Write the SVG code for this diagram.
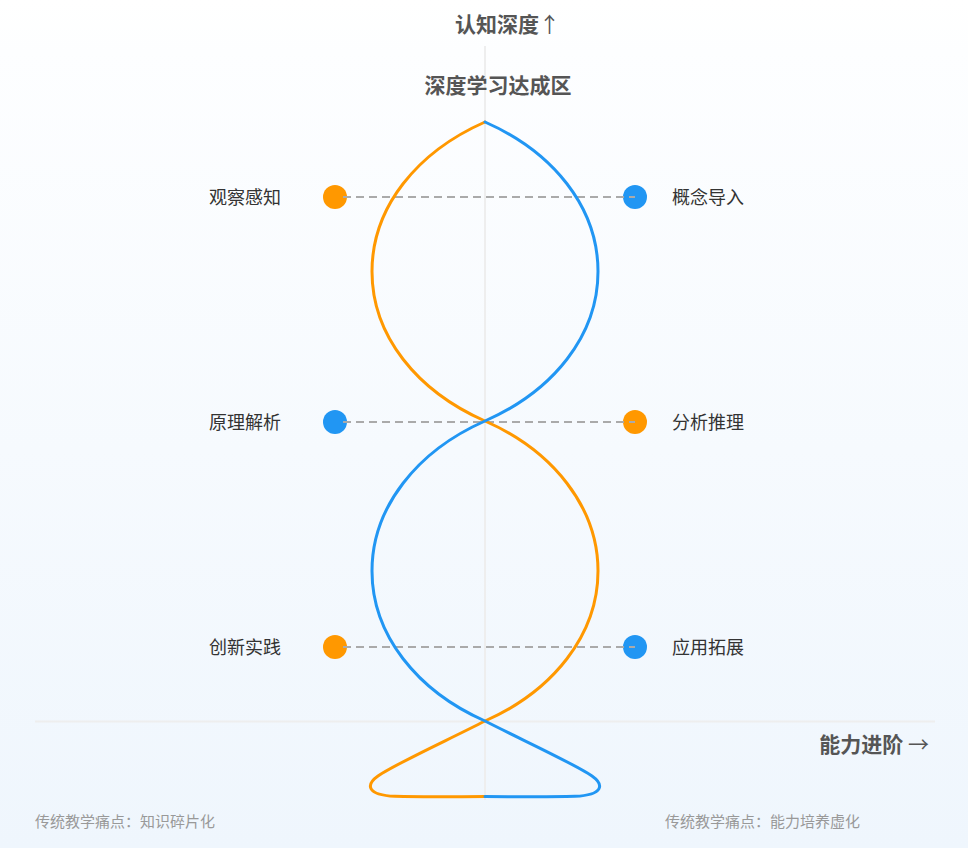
<svg xmlns="http://www.w3.org/2000/svg" width="968" height="848" viewBox="0 0 968 848">
  <defs>
    <linearGradient id="bg" x1="0" y1="0" x2="0" y2="1">
      <stop offset="0" stop-color="#ffffff"/>
      <stop offset="0.06" stop-color="#fdfeff"/>
      <stop offset="1" stop-color="#eff6fd"/>
    </linearGradient>
    <style>
      .axis { stroke: #eeeeee; stroke-width: 2; fill: none; }
      .dash { stroke: #aaaaaa; stroke-width: 2; stroke-dasharray: 8 5; fill: none; }
      .orange { stroke: #ff9800; stroke-width: 3; fill: none; stroke-linecap: round; stroke-linejoin: round; }
      .blue { stroke: #2196f3; stroke-width: 3; fill: none; stroke-linecap: round; stroke-linejoin: round; }
      .dotO { fill: #ff9800; }
      .dotB { fill: #2196f3; }
      .title { font-family: "Noto Sans CJK SC", "Noto Sans", sans-serif; font-weight: bold; font-size: 21px; fill: #555555; }
      .arrow { font-family: "Noto Sans CJK SC", sans-serif; font-weight: normal; }
      .label { font-family: "Noto Sans CJK SC", "Noto Sans", sans-serif; font-size: 18px; fill: #333333; }
      .note { font-family: "Noto Sans CJK SC", "Noto Sans", sans-serif; font-size: 15px; fill: #999999; }
    </style>
  </defs>
  <rect x="0" y="0" width="968" height="848" fill="url(#bg)"/>

  <g id="axes">
    <line class="axis" x1="485" y1="46" x2="485" y2="800"/>
    <line class="axis" x1="35" y1="721.5" x2="935" y2="721.5"/>
  </g>

  <g id="axis-labels">
    <text class="title" x="455" y="32">认知深度<tspan class="arrow" dx="0">↑</tspan></text>
    <text class="title" x="929" y="752" text-anchor="end">能力进阶 <tspan class="arrow">→</tspan></text>
  </g>

  <g id="zone-title">
    <text class="title" x="498" y="93" text-anchor="middle">深度学习达成区</text>
  </g>

  <g id="dots">
    <circle class="dotO" cx="335" cy="197" r="12"/>
    <circle class="dotB" cx="635" cy="197" r="12"/>
    <circle class="dotB" cx="335" cy="422" r="12"/>
    <circle class="dotO" cx="635" cy="422" r="12"/>
    <circle class="dotO" cx="335" cy="647" r="12"/>
    <circle class="dotB" cx="635" cy="647" r="12"/>
  </g>

  <g id="connectors">
    <line class="dash" x1="343" y1="197" x2="635" y2="197"/>
    <line class="dash" x1="343" y1="422" x2="635" y2="422"/>
    <line class="dash" x1="343" y1="647" x2="635" y2="647"/>
  </g>

  <g id="helix">
    <path id="strand-orange" class="orange" d="M485,122 C417.2,151.9 372,207 372,271.5 C372,336 417.2,391.1 485,421 C552.8,450.9 598,507 598,571 C598,635 552.8,691 485,721 C450,739 395,764 378,776 C366,784.5 366,795 395,796.3 C430,797.3 460,796.5 485,796.5"/>
    <path id="strand-blue" class="blue" d="M485,122 C552.8,151.9 598,207 598,271.5 C598,336 552.8,391.1 485,421 C417.2,450.9 372,507 372,571 C372,635 417.2,691 485,721 C520,739 575,764 592,776 C604,784.5 604,795 575,796.3 C540,797.3 510,796.5 485,796.5"/>
  </g>

  <g id="node-guancha"><text class="label" x="281" y="204" text-anchor="end">观察感知</text></g>
  <g id="node-gainian"><text class="label" x="672" y="204">概念导入</text></g>
  <g id="node-yuanli"><text class="label" x="281" y="429" text-anchor="end">原理解析</text></g>
  <g id="node-fenxi"><text class="label" x="672" y="429">分析推理</text></g>
  <g id="node-chuangxin"><text class="label" x="281" y="654" text-anchor="end">创新实践</text></g>
  <g id="node-yingyong"><text class="label" x="672" y="654">应用拓展</text></g>

  <g id="notes">
    <text class="note" x="35" y="827">传统教学痛点：知识碎片化</text>
    <text class="note" x="665" y="827">传统教学痛点：能力培养虚化</text>
  </g>
</svg>
